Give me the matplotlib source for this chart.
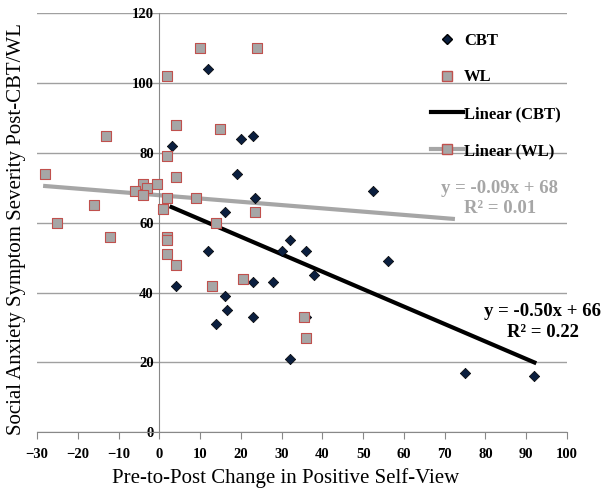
import matplotlib.pyplot as plt
from matplotlib.lines import Line2D
import numpy as np

plt.rcParams.update({
    "font.family": "Liberation Serif",
    "figure.facecolor": "white",
})

# pre-to-post change in positive self-view vs post-treatment severity
cbt_x = [12, 3, 16, 4, 12, 16, 16.5, 14, 20, 23, 19, 52.5, 23.5, 32, 30, 36,
         56, 38, 23, 28, 23, 36, 32, 75, 92]
cbt_y = [104, 82, 63, 42, 52, 39, 35, 31, 84, 85, 74, 69, 67, 55, 52, 52,
         49, 45, 43, 43, 33, 33, 21, 17, 16]
wl_x = [-28, -13, 2, 10, 4, 15, 2, 4, -0.5, -4, -3, -6, -4, 2, 9, 1, -16, -25,
        14, -12, 2, 2, 2, 4, 13, 24, 23.5, 20.5, 35.5, 36]
wl_y = [74, 85, 102, 110, 88, 87, 79, 73, 71, 71, 70, 69, 68, 67, 67, 64, 65, 60,
        60, 56, 56, 55, 51, 48, 42, 110, 63, 44, 33, 27]

# trendline coefficients as reported on the chart (slope, intercept)
cbt_trend = [-0.50, 66]
wl_trend = [-0.094, 67.9]
cbt_trend_range = [3, 92]
wl_trend_range = [-28, 72]  # excel forecast forward

CBT_COLOR = "#0b1f3f"
WL_FILL = "#a6a6a6"
WL_EDGE = "#c0504d"
TREND_WL = "#a6a6a6"

fig = plt.figure(figsize=(6.11, 4.99), dpi=100)
ax = fig.add_axes([0.0606, 0.1337, 0.8674, 0.8396])

xs = np.array(cbt_trend_range)
ax.plot(xs, np.polyval(cbt_trend, xs), color="black", lw=3, zorder=3)
xs = np.array(wl_trend_range)
ax.plot(xs, np.polyval(wl_trend, xs), color=TREND_WL, lw=3, zorder=2)

ax.scatter(cbt_x, cbt_y, marker="D", s=28, color=CBT_COLOR, edgecolor="black",
           linewidth=0.5, zorder=4)
ax.scatter(wl_x, wl_y, marker="s", s=55, color=WL_FILL, edgecolor=WL_EDGE,
           linewidth=0.8, zorder=4)

ax.set_xlim(-30, 100)
ax.set_ylim(0, 120)
ax.set_xticks(np.arange(-30, 101, 10))
ax.set_yticks(np.arange(0, 121, 20))
ax.grid(axis="y", color="#a0a0a0", lw=1)
ax.set_axisbelow(True)

ax.spines["left"].set_position(("data", 0))
ax.spines["left"].set_color("#888888")
ax.spines["bottom"].set_color("#888888")
ax.spines["top"].set_visible(False)
ax.spines["right"].set_visible(False)
ax.tick_params(axis="x", length=5, color="#888888", pad=6)
ax.tick_params(axis="y", length=0, pad=4)
for lab in ax.get_xticklabels() + ax.get_yticklabels():
    lab.set_fontweight("bold")
    lab.set_fontsize(10.5)

ax.set_xlabel("Pre-to-Post Change in Positive Self-View", fontsize=15)
ax.xaxis.set_label_coords(0.469, -0.085)
ax.set_ylabel("Social Anxiety Symptom Severity Post-CBT/WL", fontsize=15)
ax.yaxis.set_label_coords(-0.02, 0.485)

ax.text(83.5, 66.9, "y = -0.09x + 68\nR\u00b2 = 0.01", color=TREND_WL, fontsize=13.5,
        fontweight="bold", ha="center", va="center", linespacing=1.2)
ax.text(94, 31.7, "y = -0.50x + 66\nR\u00b2 = 0.22", color="black", fontsize=13.5,
        fontweight="bold", ha="center", va="center", linespacing=1.3)

handles = [
    Line2D([], [], ls="none", marker="D", ms=5, color=CBT_COLOR, mec="black"),
    Line2D([], [], ls="none", marker="s", ms=7, color=WL_FILL, mec=WL_EDGE),
    Line2D([], [], color="black", lw=3),
    Line2D([], [], color=TREND_WL, lw=3, marker="s", ms=7, mfc=WL_FILL, mec=WL_EDGE),
]
leg = ax.legend(handles, ["CBT", "WL", "Linear (CBT)", "Linear (WL)"],
                loc="upper left", bbox_to_anchor=(0.716, 0.99), frameon=False,
                prop={"weight": "bold", "size": 12}, labelspacing=1.25,
                handlelength=1.9, handletextpad=0.05)

fig.savefig("out.png", dpi=100, facecolor="white")
